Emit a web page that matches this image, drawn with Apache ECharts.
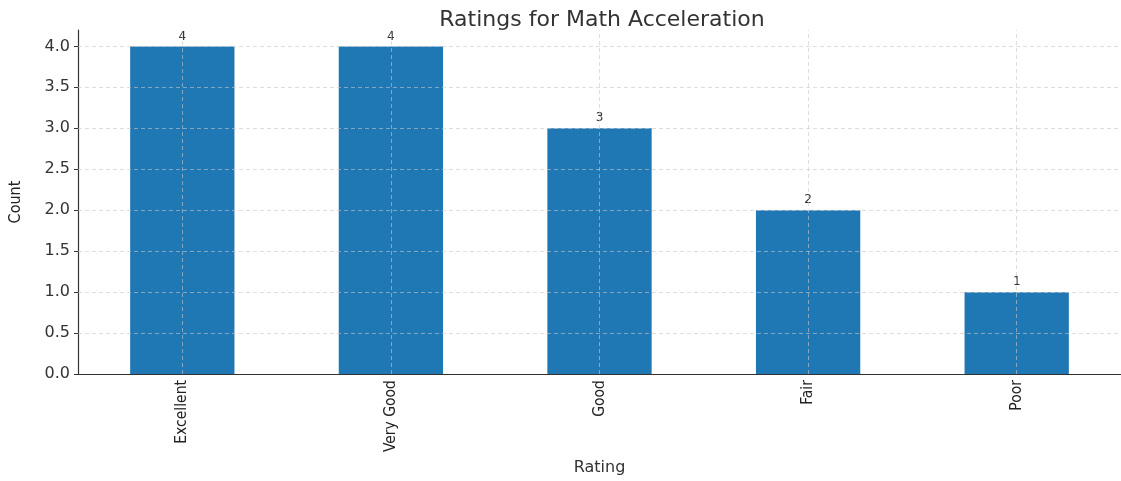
<!DOCTYPE html>
<html>
<head>
<meta charset="utf-8">
<script src="https://cdn.jsdelivr.net/npm/echarts@6/dist/echarts.min.js"></script>
<style>html,body{margin:0;padding:0;background:#fff}#c{width:1121px;height:481px}</style>
</head>
<body>
<div id="c"></div>
<script>
const categories = ["Excellent", "Very Good", "Good", "Fair", "Poor"];
const counts = [4, 4, 3, 2, 1];
const yTicks = [0.5, 1.0, 1.5, 2.0, 2.5, 3.0, 3.5, 4.0];
const titleText = "Ratings for Math Acceleration";
const xName = "Rating";
const yName = "Count";

const gridStyle = { color: 'rgba(200,200,200,0.75)', type: [4, 3], width: 0.8 };
const chart = echarts.init(document.getElementById('c'), null, { renderer: 'canvas' });
chart.setOption({
  animation: false,
  title: {
    text: titleText, left: 597, top: 4, textAlign: 'center',
    textStyle: { fontFamily: 'DejaVu Sans', fontSize: 22, fontWeight: 'normal', color: '#333' }
  },
  grid: { left: 72, right: -1, top: 30, bottom: 99, containLabel: false },
  xAxis: {
    type: 'category', data: categories,
    name: xName, nameLocation: 'middle', nameGap: 83,
    nameTextStyle: { fontFamily: 'DejaVu Sans', fontSize: 16, color: '#333' },
    axisLine: { lineStyle: { color: '#333', width: 1.2 } },
    axisTick: { alignWithLabel: true, length: 4, lineStyle: { color: '#333' } },
    axisLabel: { rotate: 90, margin: 6, fontFamily: 'DejaVu Sans Condensed', fontSize: 15.5, color: '#222' },
    splitLine: { show: false }
  },
  yAxis: {
    type: 'value', min: 0, max: 4.2, interval: 0.5,
    name: yName, nameLocation: 'middle', nameGap: 54, nameRotate: 90,
    nameTextStyle: { fontFamily: 'DejaVu Sans Condensed', fontSize: 16, color: '#222' },
    axisLine: { show: true, lineStyle: { color: '#333', width: 1.2 } },
    axisTick: { show: true, length: 4, lineStyle: { color: '#333' } },
    axisLabel: { showMaxLabel: false, margin: 8, fontFamily: 'DejaVu Sans', fontSize: 16, color: '#333',
      formatter: v => v.toFixed(1) },
    splitLine: { show: false }
  },
  series: [{
    type: 'bar', data: counts, barWidth: '50%',
    itemStyle: { color: '#1f77b4' },
    label: { show: true, position: 'top', distance: 4, fontFamily: 'DejaVu Sans', fontSize: 12, color: '#333' },
    markLine: {
      silent: true, symbol: ['none', 'none'], label: { show: false },
      lineStyle: gridStyle,
      data: yTicks.map(t => ({ yAxis: t })).concat(categories.map(c => ({ xAxis: c })))
    }
  }]
});
</script>
</body>
</html>
